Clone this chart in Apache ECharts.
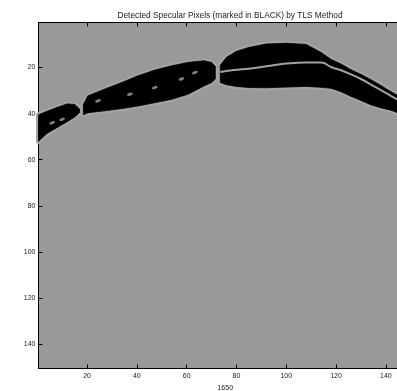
<!DOCTYPE html>
<html><head><meta charset="utf-8">
<script src="https://cdn.jsdelivr.net/npm/echarts@6/dist/echarts.min.js"></script>
<style>html,body{margin:0;padding:0;background:#fff}#c{width:397px;height:391px}</style>
</head><body><div id="c"></div>
<script>
// Tick labels
const xTicks = [20, 40, 60, 80, 100, 120, 140];
const yTicks = [20, 40, 60, 80, 100, 120, 140];

// Band 1 (left): column, top row, bottom row of black pixels
const seg1X   = [0.5, 4, 8, 12, 15, 17];
const seg1Top = [40.5, 39, 37.3, 35.8, 36, 38];
const seg1Bot = [52, 48.5, 46, 43.5, 41.5, 39.5];

// Band 2 (middle)
const seg2X   = [18.5, 20.4, 27, 34, 40.5, 47, 54, 60.5, 67, 70, 71.5];
const seg2Top = [36, 32.3, 29.4, 26.5, 23.6, 21.2, 19.3, 17.8, 17.1, 17.8, 19.5];
const seg2Bot = [40.5, 39.6, 38.8, 37.8, 36.7, 35.3, 33.8, 31.6, 28, 26.5, 25];

// Band 3 (arch, right) with a thin non-specular line inside
const seg3X   = [73.5, 76, 80, 85, 92, 100, 108, 114, 118, 122, 126, 130, 134, 138, 142, 148];
const seg3Top = [19, 15.6, 13, 11.3, 9.8, 9.5, 10, 13.5, 16.5, 18.5, 21, 23, 25.3, 27.8, 30.5, 34];
const seg3Gap = [22, 21.5, 21, 20.5, 19.5, 18.3, 17.8, 17.8, 19.8, 21.2, 23, 25, 27.4, 29.8, 32.3, 36];
const seg3Bot = [26.5, 27.5, 28.2, 28.7, 28.8, 28.5, 28.2, 28.6, 29, 30.5, 32.5, 34.3, 36.2, 37.5, 38.5, 41];

// Small non-specular holes inside the bands (column, row)
const holeX = [6, 10, 24.4, 37.2, 47.2, 57.9, 63.3];
const holeY = [44, 42.5, 34.5, 31.6, 28.7, 25, 22.2];

function pairs(xs, ts, bs) {
  const out = [];
  for (let i = 0; i < xs.length - 1; i++) out.push([xs[i], ts[i], bs[i], xs[i+1], ts[i+1], bs[i+1]]);
  return out;
}
function makeRender(fill, stroke, lw) {
  return function (params, api) {
    const p = [
      api.coord([api.value(0), api.value(1)]),
      api.coord([api.value(3), api.value(4)]),
      api.coord([api.value(3), api.value(5)]),
      api.coord([api.value(0), api.value(2)])
    ];
    return { type: 'polygon', shape: { points: p }, style: { fill: fill, stroke: stroke, lineWidth: lw, lineJoin: 'round' } };
  };
}
const bands = [pairs(seg1X, seg1Top, seg1Bot), pairs(seg2X, seg2Top, seg2Bot), pairs(seg3X, seg3Top, seg3Bot)];
const series = [];
bands.forEach(d => series.push({ type: 'custom', renderItem: makeRender('#a4a4a4', '#a4a4a4', 5), data: d, silent: true, z: 1 }));
bands.forEach(d => series.push({ type: 'custom', renderItem: makeRender('#000', '#000', 0.8), data: d, silent: true, z: 2 }));
series.push({ type: 'line', data: seg3X.map((x, i) => [x, seg3Gap[i]]), smooth: true, symbol: 'none',
  lineStyle: { color: '#a2a2a2', width: 2 }, z: 3 });
series.push({ type: 'scatter', data: holeX.map((x, i) => [x, holeY[i]]), symbol: 'circle', symbolSize: [6, 3], symbolRotate: 20,
  itemStyle: { color: '#9e9e9e' }, z: 3 });

const axisCommon = {
  type: 'value', min: 0.5, max: 150.5,
  axisLine: { show: true, lineStyle: { color: '#000', width: 1 } },
  splitLine: { show: false }
};
const font = 'Liberation Sans';
const chart = echarts.init(document.getElementById('c'));
chart.setOption({
  animation: false,
  title: { text: 'Detected Specular Pixels (marked in BLACK) by TLS Method', left: 225, top: 7, textAlign: 'center',
    textStyle: { fontSize: 8.3, fontWeight: 'normal', color: '#222', fontFamily: font } },
  grid: { left: 38.5, top: 22.5, width: 373.5, height: 346, outerBoundsMode: 'none', containLabel: false,
    show: true, backgroundColor: '#999999', borderColor: '#000', borderWidth: 1 },
  xAxis: [
    Object.assign({}, axisCommon, { position: 'bottom',
      axisTick: { inside: true, length: 4, customValues: xTicks, lineStyle: { color: '#000' } },
      axisLabel: { customValues: xTicks, fontSize: 7, color: '#222', margin: 4, fontFamily: font },
      name: '1650', nameLocation: 'middle', nameGap: 15, nameTextStyle: { fontSize: 7, color: '#222', fontFamily: font } }),
    Object.assign({}, axisCommon, { position: 'top',
      axisTick: { inside: true, length: 4, customValues: xTicks, lineStyle: { color: '#000' } },
      axisLabel: { show: false } })
  ],
  yAxis: [
    Object.assign({}, axisCommon, { inverse: true, position: 'left',
      axisTick: { inside: true, length: 4, customValues: yTicks, lineStyle: { color: '#000' } },
      axisLabel: { customValues: yTicks, fontSize: 7, color: '#222', margin: 3, fontFamily: font } })
  ],
  series: series
});
</script></body></html>
